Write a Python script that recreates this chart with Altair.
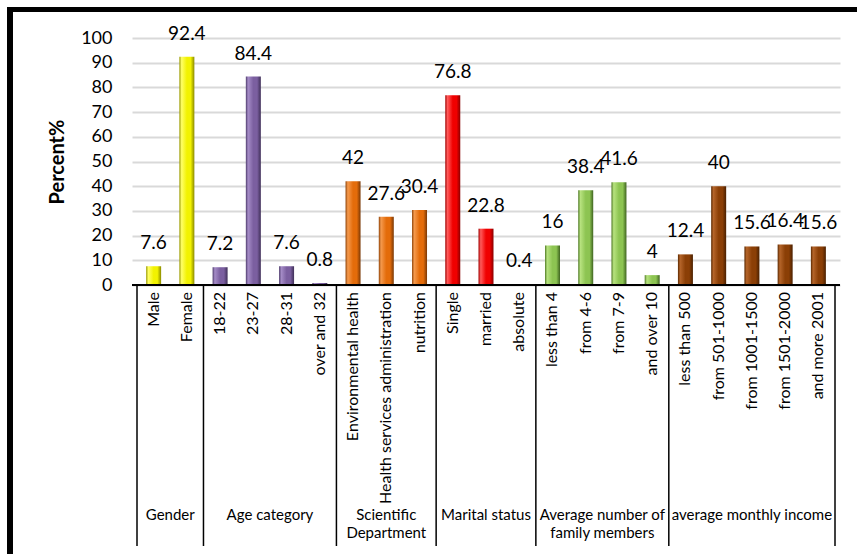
import altair as alt
import pandas as pd

# Survey sample profile: percentage of respondents in each category
group_titles = [
    "Gender",
    "Age category",
    "Scientific\nDepartment",
    "Marital status",
    "Average number of\nfamily members",
    "average monthly income",
]
group_sizes = [2, 4, 3, 3, 4, 5]
categories = [
    "Male", "Female",
    "18-22", "23-27", "28-31", "over and 32",
    "Environmental health", "Health services administration", "nutrition",
    "Single", "married", "absolute",
    "less than 4", "from 4-6", "from 7-9", "and over 10",
    "less than 500", "from 501-1000", "from 1001-1500", "from 1501-2000", "and more 2001",
]
percent = [
    7.6, 92.4,
    7.2, 84.4, 7.6, 0.8,
    42, 27.6, 30.4,
    76.8, 22.8, 0.4,
    16, 38.4, 41.6, 4,
    12.4, 40, 15.6, 16.4, 15.6,
]
# (dark edge, highlight, base, shade) per group
group_colors = [
    ("#9a9a00", "#ffff66", "#f2f200", "#8a8a00"),
    ("#4d3a6b", "#a58cc7", "#7b5fa0", "#3f2f58"),
    ("#8f4206", "#f59a4e", "#e46c0a", "#7a3805"),
    ("#a00000", "#ff5a5a", "#f00000", "#8a0000"),
    ("#4f7a25", "#b7e27f", "#8dc452", "#3f6420"),
    ("#5a2800", "#b5652a", "#8b3f06", "#4a2000"),
]

W, H = 708, 247
n_cat = len(categories)

group_of = []
for g, size in zip(group_titles, group_sizes):
    group_of += [g] * size

bars = pd.DataFrame({
    "x": [i + 0.5 for i in range(n_cat)],
    "category": categories,
    "group": group_of,
    "value": percent,
    "label": [f"{v:g}" for v in percent],
})

bounds = [0]
for size in group_sizes:
    bounds.append(bounds[-1] + size)
groups = pd.DataFrame({
    "title": group_titles,
    "mid": [(a + b) / 2 for a, b in zip(bounds[:-1], bounds[1:])],
})
seps = pd.DataFrame({"b": bounds})

xscale = alt.Scale(domain=[0, n_cat], nice=False, zero=False)
yscale = alt.Scale(domain=[0, 100], nice=False)
FONT = "Lato"

yaxis = alt.Axis(
    values=list(range(0, 101, 10)),
    labelOverlap=False,
    grid=True, gridColor="#d9d9d9", gridWidth=2,
    domain=False, ticks=False,
    labelFont=FONT, labelFontSize=18, labelColor="black", labelPadding=20,
    title="Percent%", titleFont=FONT, titleFontSize=20, titleFontWeight="bold",
    titleColor="black", titleX=-75, titleAngle=270, titleBaseline="middle",
)

layers = []
for g, (edge, hi, base, shade) in zip(group_titles, group_colors):
    grad = alt.Gradient(
        gradient="linear", x1=0, x2=1, y1=0, y2=0,
        stops=[
            alt.GradientStop(color=edge, offset=0),
            alt.GradientStop(color=hi, offset=0.15),
            alt.GradientStop(color=base, offset=0.5),
            alt.GradientStop(color=base, offset=0.75),
            alt.GradientStop(color=shade, offset=1),
        ],
    )
    layer = alt.Chart(bars).mark_bar(size=15, color=grad).encode(
        x=alt.X("x:Q", scale=xscale, axis=None),
        y=alt.Y("value:Q", scale=yscale, axis=yaxis),
    ).transform_filter(alt.datum.group == g)
    layers.append(layer)

value_labels = alt.Chart(bars).mark_text(
    baseline="alphabetic", dy=-17, font=FONT, fontSize=19, color="black"
).encode(
    x=alt.X("x:Q", scale=xscale, axis=None),
    y=alt.Y("value:Q", scale=yscale, axis=yaxis),
    text="label:N",
)

cat_labels = alt.Chart(bars).mark_text(
    angle=270, align="right", baseline="middle", font=FONT, fontSize=16, color="black"
).encode(
    x=alt.X("x:Q", scale=xscale, axis=None),
    y=alt.value(H + 7),
    text="category:N",
)

group_labels = alt.Chart(groups).mark_text(
    baseline="top", align="center", font=FONT, fontSize=15, color="black",
    lineBreak="\n", lineHeight=18,
).encode(
    x=alt.X("mid:Q", scale=xscale, axis=None),
    y=alt.value(H + 223),
    text="title:N",
)

separators = alt.Chart(seps).mark_rule(color="black", strokeWidth=1.5).encode(
    x=alt.X("b:Q", scale=xscale, axis=None),
    y=alt.value(H),
    y2=alt.value(H + 261),
)

baseline = alt.Chart(seps).mark_rule(color="black", strokeWidth=1.5).encode(
    x=alt.value(0), x2=alt.value(W), y=alt.value(H),
)

frame = alt.Chart(seps).mark_rect(
    filled=False, stroke="black", strokeWidth=5
).encode(
    x=alt.value(-122), x2=alt.value(W + 200),
    y=alt.value(-28.5), y2=alt.value(H + 400),
)

chart = alt.layer(
    *layers, baseline, separators, value_labels, cat_labels, group_labels, frame
).properties(
    width=W, height=H,
    autosize=alt.AutoSizeParams(type="none"),
    padding={"left": 132, "top": 38, "right": 17, "bottom": 269},
    background="white",
).configure_view(stroke=None)

chart.save("out.html", embed_options={"renderer": "svg", "actions": False})
